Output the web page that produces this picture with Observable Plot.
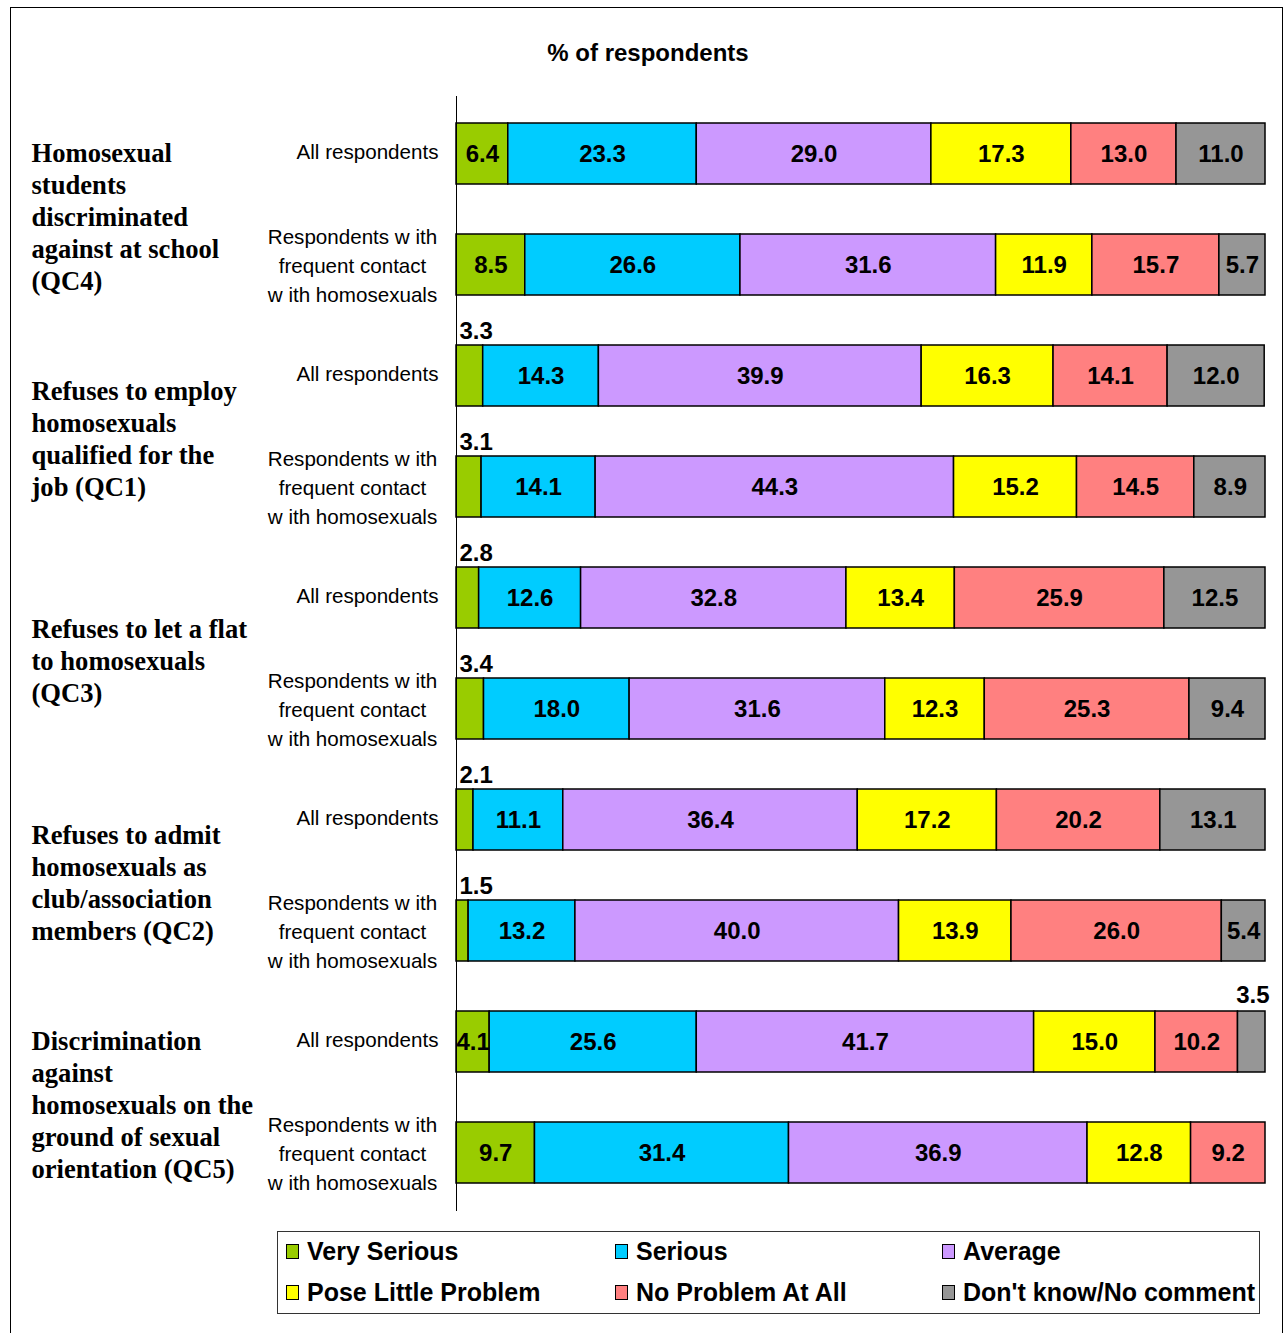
<!DOCTYPE html>
<html>
<head>
<meta charset="utf-8">
<script src="https://cdn.jsdelivr.net/npm/d3@7"></script>
<script src="https://cdn.jsdelivr.net/npm/@observablehq/plot@0.6"></script>
<style>
  html, body { margin: 0; padding: 0; background: #fff; }
  #wrap { position: relative; width: 1287px; height: 1333px; overflow: hidden; font-family: "Liberation Sans", Arial, sans-serif; }
  #frame { position: absolute; left: 10px; top: 7px; width: 1273px; height: 1340px; border: 1px solid #000; box-sizing: border-box; }
  #title { position: absolute; left: 448px; width: 400px; top: 38px; text-align: center; font-weight: bold; font-size: 24px; line-height: 30px; }
  #chart { position: absolute; left: 0; top: 0; }
  #legend { position: absolute; left: 277px; top: 1231px; width: 983px; height: 83px; border: 1px solid #333; box-sizing: border-box; background: #fff; }
  .item { position: absolute; font-weight: bold; font-size: 25px; line-height: 28px; white-space: nowrap; }
  .sw { position: absolute; left: -21px; top: 7px; width: 11px; height: 13px; border: 1.5px solid #000; }
</style>
</head>
<body>
<div id="wrap">
  <div id="frame"></div>
  <div id="title">% of respondents</div>
  <div id="chart"></div>
  <div id="legend"></div>
</div>
<script>
// ---- data ----
const categories = ["Very Serious", "Serious", "Average", "Pose Little Problem", "No Problem At All", "Don't know/No comment"];
const colors = ["#99cc00", "#00ccff", "#cc99ff", "#ffff00", "#ff8080", "#969696"];

const questions = [
  "Homosexual\nstudents\ndiscriminated\nagainst at school\n(QC4)",
  "Refuses to employ\nhomosexuals\nqualified for the\njob (QC1)",
  "Refuses to let a flat\nto homosexuals\n(QC3)",
  "Refuses to admit\nhomosexuals as\nclub/association\nmembers (QC2)",
  "Discrimination\nagainst\nhomosexuals on the\nground of sexual\norientation (QC5)"
];
const respondentTypes = ["All respondents", "Respondents w ith\nfrequent contact\nw ith homosexuals"];

const allRespondents = [
  [6.4, 23.3, 29.0, 17.3, 13.0, 11.0],
  [3.3, 14.3, 39.9, 16.3, 14.1, 12.0],
  [2.8, 12.6, 32.8, 13.4, 25.9, 12.5],
  [2.1, 11.1, 36.4, 17.2, 20.2, 13.1],
  [4.1, 25.6, 41.7, 15.0, 10.2, 3.5]
];
const frequentContact = [
  [8.5, 26.6, 31.6, 11.9, 15.7, 5.7],
  [3.1, 14.1, 44.3, 15.2, 14.5, 8.9],
  [3.4, 18.0, 31.6, 12.3, 25.3, 9.4],
  [1.5, 13.2, 40.0, 13.9, 26.0, 5.4],
  [9.7, 31.4, 36.9, 12.8, 9.2, 0]
];

// ---- tables built from the arrays ----
const rowKeys = [];
const rows = [];
const table = [];
questions.forEach((q, i) => {
  [allRespondents[i], frequentContact[i]].forEach((vals, j) => {
    const key = `${i}-${j}`;
    rowKeys.push(key);
    rows.push({key, label: respondentTypes[j], type: j});
    vals.forEach((v, k) => table.push({row: key, cat: categories[k], k, value: v}));
  });
});
const groupRows = questions.map((q, i) => ({key: `${i}-0`, label: q}));
const lastCat = categories.length - 1;

const step = 1115 / rowKeys.length;

const chart = Plot.plot({
  width: 1287,
  height: 1333,
  marginLeft: 456,
  marginRight: 22,
  marginTop: 96,
  marginBottom: 122,
  x: {domain: [0, 100], axis: null, clamp: true},
  y: {domain: rowKeys, axis: null, paddingInner: 0.45, paddingOuter: 0.225},
  color: {domain: categories, range: colors},
  marks: [
    Plot.barX(table, Plot.stackX({x: "value", y: "row", fill: "cat", stroke: "#000", strokeWidth: 1.5})),
    Plot.ruleX([0], {stroke: "#000", strokeWidth: 1}),
    // in-bar labels
    Plot.textX(table, Plot.stackX({
      x: "value", y: "row",
      text: d => d.value >= 4 ? d.value.toFixed(1) : "",
      fontSize: 24, fontWeight: "bold", fontFamily: "Liberation Sans, Arial, sans-serif", fill: "#000"
    })),
    // small values above bar start
    Plot.textX(table, Plot.stackX1({
      x: "value", y: "row",
      text: d => d.value > 0 && d.value < 4 && d.k !== lastCat ? d.value.toFixed(1) : "",
      textAnchor: "start", dx: 3, dy: -45,
      fontSize: 24, fontWeight: "bold", fontFamily: "Liberation Sans, Arial, sans-serif", fill: "#000"
    })),
    // small last value above bar end
    Plot.textX(table, Plot.stackX2({
      x: "value", y: "row",
      text: d => d.value > 0 && d.value < 4 && d.k === lastCat ? d.value.toFixed(1) : "",
      textAnchor: "end", dx: 4, dy: -47,
      fontSize: 24, fontWeight: "bold", fontFamily: "Liberation Sans, Arial, sans-serif", fill: "#000"
    })),
    // row labels
    Plot.text(rows.filter(r => r.type === 0), {
      y: "key", text: "label", frameAnchor: "left", textAnchor: "end", dx: -18, dy: -2,
      fontSize: 20.6, fontFamily: "Liberation Sans, Arial, sans-serif", fill: "#000"
    }),
    Plot.text(rows.filter(r => r.type === 1), {
      y: "key", text: "label", frameAnchor: "left", textAnchor: "middle", dx: -104, dy: -1,
      lineHeight: 1.41,
      fontSize: 20.6, fontFamily: "Liberation Sans, Arial, sans-serif", fill: "#000"
    }),
    // question labels
    Plot.text(groupRows, {
      y: "key", text: "label", frameAnchor: "left", textAnchor: "start", dx: -425, dy: step / 2 + 6,
      lineHeight: 1.2,
      fontSize: 26.6, fontWeight: "bold", fontFamily: "Liberation Serif, Times New Roman, serif", fill: "#000"
    })
  ]
});
document.getElementById("chart").appendChild(chart);

// ---- legend ----
const legend = document.getElementById("legend");
const colX = [29, 358, 685];
const rowY = [5, 46];
categories.forEach((c, i) => {
  const it = document.createElement("div");
  it.className = "item";
  it.style.left = colX[i % 3] + "px";
  it.style.top = rowY[Math.floor(i / 3)] + "px";
  const sw = document.createElement("span");
  sw.className = "sw";
  sw.style.background = colors[i];
  it.appendChild(sw);
  it.appendChild(document.createTextNode(c));
  legend.appendChild(it);
});
</script>
</body>
</html>
